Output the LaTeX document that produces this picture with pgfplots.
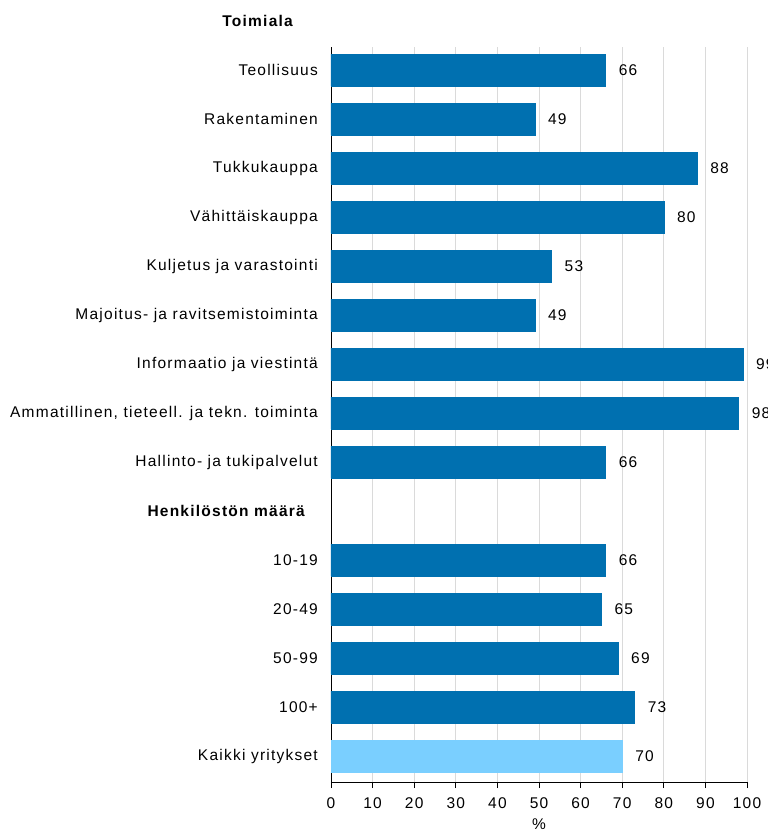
\documentclass[border=0pt]{standalone}
\usepackage{pgfplots}
\pgfplotsset{compat=1.18}
\usepackage{fontspec}
\setmainfont[LetterSpace=8]{Liberation Sans}
\definecolor{barblue}{RGB}{0,112,176}
\definecolor{lightblue}{RGB}{122,207,255}
\definecolor{gridgray}{RGB}{218,218,218}
\pgfplotstableread{
y val
1 66
2 49
3 88
4 80
5 53
6 49
7 99
8 98
9 66
11 66
12 65
13 69
14 73
}\mainbars
\pgfplotstableread{
y val
15 70
}\allbars
\begin{document}
\fontsize{15.5bp}{18bp}\selectfont
\begin{tikzpicture}
\begin{axis}[
  at={(0,0)}, anchor=south west,
  scale only axis,
  width=416bp, height=735bp,
  xmin=0, xmax=100,
  ymin=0.53, ymax=15.53,
  y dir=reverse,
  axis x line*=bottom,
  axis y line*=left,
  axis line style={black, line width=0.8pt},
  xtick={0,10,...,100},
  x tick style={black, line width=0.8pt},
  tick align=outside,
  major tick length=6bp,
  xmajorgrids,
  grid style={gridgray, line width=0.8pt},
  ytick={1,2,3,4,5,6,7,8,9,11,12,13,14,15},
  yticklabels={Teollisuus, Rakentaminen, Tukkukauppa, Vähittäiskauppa, Kuljetus ja varastointi, Majoitus- ja ravitsemistoiminta, Informaatio ja viestintä, {Ammatillinen, tieteell. ja tekn. toiminta}, Hallinto- ja tukipalvelut, 10-19, 20-49, 50-99, 100+, Kaikki yritykset},
  y tick style={draw=none},
  yticklabel style={anchor=east, inner sep=0pt, xshift=-7bp},
  xticklabel style={inner sep=0pt, yshift=-9bp},
  /pgf/number format/assume math mode=true,
  xlabel={\%},
  xlabel style={inner sep=0pt, yshift=-10bp},
  clip=false,
  tick label style={font=\fontsize{15.5bp}{18bp}\selectfont},
  label style={font=\fontsize{15.5bp}{18bp}\selectfont},
  nodes near coords,
  nodes near coords style={anchor=west, inner sep=0pt, xshift=13bp, font=\fontsize{15.5bp}{18bp}\selectfont, black},
  point meta=explicit,
]
\addplot[xbar, bar width=32bp, bar shift=0pt, fill=barblue, draw=barblue] table[x=val, y=y, meta=val] {\mainbars};
\addplot[xbar, bar width=32bp, bar shift=0pt, fill=lightblue, draw=lightblue] table[x=val, y=y, meta=val] {\allbars};
\node[anchor=east, inner sep=0pt, font=\bfseries] at (axis cs:0,0) [xshift=-38bp] {Toimiala};
\node[anchor=east, inner sep=0pt, font=\bfseries] at (axis cs:0,10) [xshift=-26bp] {Henkilöstön määrä};
\end{axis}
\pgfresetboundingbox
\path[use as bounding box] (-331bp,-50bp) rectangle (437bp,782bp);
\end{tikzpicture}
\end{document}
